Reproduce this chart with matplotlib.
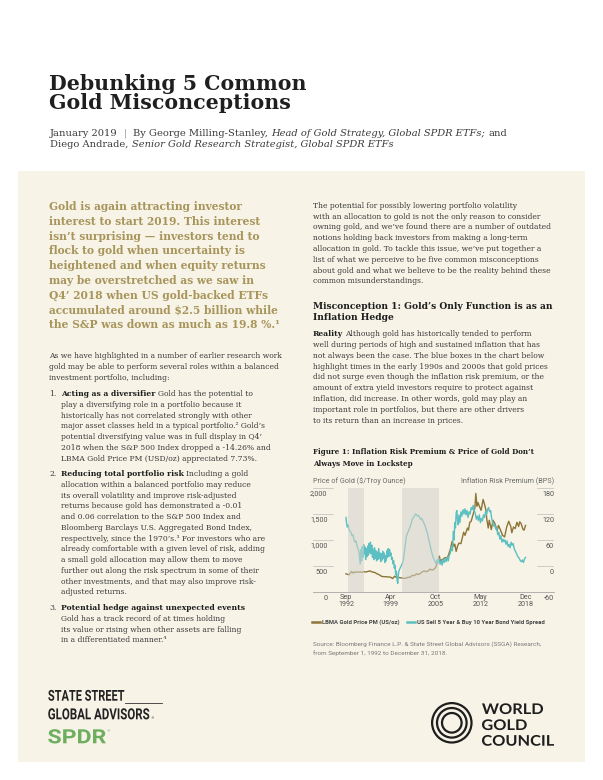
import matplotlib
matplotlib.use('Agg')
import matplotlib.pyplot as plt
from matplotlib.patches import Rectangle, Circle, PathPatch
from matplotlib.textpath import TextPath
from matplotlib.font_manager import FontProperties
from matplotlib.transforms import Affine2D, ScaledTranslation
from matplotlib.lines import Line2D

# ---------------- chart data ----------------
gold_years = [1992.67, 1992.9, 1993.1, 1993.3, 1993.5, 1993.7, 1994.0, 1994.3, 1994.6, 1995.0,
              1995.3, 1995.6, 1996.0, 1996.2, 1996.5, 1996.9, 1997.2, 1997.5, 1997.9, 1998.2,
              1998.5, 1998.8, 1999.2, 1999.5, 1999.8, 2000.0, 2000.3, 2000.6, 2000.9, 2001.2,
              2001.5, 2001.75, 2002.0, 2002.4, 2002.7, 2003.0, 2003.2, 2003.6, 2003.9, 2004.2,
              2004.4, 2004.7, 2004.95, 2005.2, 2005.5, 2005.8, 2006.0, 2006.35, 2006.5, 2006.7,
              2006.9, 2007.2, 2007.5, 2007.75, 2007.95, 2008.2, 2008.45, 2008.6, 2008.8, 2009.0,
              2009.2, 2009.5, 2009.9, 2010.1, 2010.45, 2010.6, 2010.8, 2011.0, 2011.3, 2011.55,
              2011.68, 2011.85, 2012.0, 2012.2, 2012.45, 2012.75, 2012.95, 2013.15, 2013.3, 2013.5,
              2013.65, 2013.95, 2014.2, 2014.5, 2014.8, 2015.0, 2015.3, 2015.6, 2015.9, 2016.2,
              2016.5, 2016.8, 2016.95, 2017.2, 2017.45, 2017.7, 2017.95, 2018.1, 2018.3, 2018.6,
              2018.75, 2018.96]
gold_price = [350, 340, 330, 360, 395, 365, 385, 380, 385, 380,
              390, 385, 400, 405, 385, 375, 350, 335, 300, 295,
              295, 290, 285, 258, 305, 285, 280, 275, 268, 262,
              268, 285, 280, 320, 315, 350, 335, 360, 395, 405,
              390, 405, 440, 425, 430, 470, 545, 690, 580, 620,
              630, 665, 650, 740, 820, 970, 880, 920, 780, 880,
              940, 930, 1150, 1090, 1230, 1190, 1340, 1360, 1500, 1620,
              1895, 1650, 1720, 1650, 1570, 1780, 1690, 1580, 1390, 1230,
              1380, 1200, 1380, 1310, 1180, 1280, 1190, 1090, 1060, 1250,
              1360, 1260, 1140, 1250, 1220, 1340, 1260, 1350, 1320, 1200,
              1190, 1280]

spread_years = [1992.67, 1992.75, 1992.85, 1993.0, 1993.1, 1993.25, 1993.4, 1993.55, 1993.7, 1993.85,
                1994.0, 1994.15, 1994.3, 1994.45, 1994.6, 1994.75, 1994.85, 1994.95, 1995.05, 1995.15,
                1995.25, 1995.35, 1995.45, 1995.55, 1995.65, 1995.75, 1995.85, 1995.95, 1996.05, 1996.15,
                1996.25, 1996.35, 1996.45, 1996.55, 1996.65, 1996.75, 1996.85, 1996.95, 1997.05, 1997.15,
                1997.25, 1997.35, 1997.45, 1997.55, 1997.65, 1997.75, 1997.85, 1997.95, 1998.05, 1998.15,
                1998.25, 1998.35, 1998.45, 1998.55, 1998.65, 1998.75, 1998.85, 1998.95, 1999.05, 1999.15,
                1999.25, 1999.35, 1999.45, 1999.55, 1999.65, 1999.75, 1999.85, 1999.95, 2000.05, 2000.15,
                2000.25, 2000.35, 2000.45, 2000.6, 2000.75, 2000.9, 2001.05, 2001.2, 2001.35, 2001.5,
                2001.65, 2001.8, 2001.95, 2002.1, 2002.25, 2002.4, 2002.55, 2002.7, 2002.85, 2003.0,
                2003.15, 2003.3, 2003.45, 2003.6, 2003.75, 2003.9, 2004.05, 2004.2, 2004.35, 2004.5,
                2004.65, 2004.8, 2004.95, 2005.1, 2005.25, 2005.4, 2005.55, 2005.7, 2005.85, 2006.0,
                2006.15, 2006.3, 2006.45, 2006.6, 2006.75, 2006.9, 2007.05, 2007.2, 2007.35, 2007.5,
                2007.65, 2007.8, 2007.95, 2008.1, 2008.25, 2008.4, 2008.5, 2008.6, 2008.7, 2008.8,
                2008.9, 2009.0, 2009.1, 2009.2, 2009.35, 2009.5, 2009.65, 2009.8, 2009.95, 2010.1,
                2010.25, 2010.4, 2010.55, 2010.7, 2010.85, 2011.0, 2011.15, 2011.3, 2011.45, 2011.6,
                2011.75, 2011.9, 2012.05, 2012.2, 2012.35, 2012.5, 2012.65, 2012.8, 2012.95, 2013.1,
                2013.25, 2013.4, 2013.55, 2013.7, 2013.85, 2014.0, 2014.15, 2014.3, 2014.45, 2014.6,
                2014.75, 2014.9, 2015.05, 2015.2, 2015.35, 2015.5, 2015.65, 2015.8, 2015.95, 2016.1,
                2016.25, 2016.4, 2016.55, 2016.7, 2016.85, 2017.0, 2017.15, 2017.3, 2017.45, 2017.6,
                2017.75, 2017.9, 2018.05, 2018.2, 2018.35, 2018.5, 2018.65, 2018.8, 2018.96]
spread_bps = [112, 100, 90, 95, 85, 80, 78, 70, 72, 60,
              55, 58, 45, 40, 30, 5, 38, 12, 45, 20,
              50, 28, 44, 15, 40, 22, 46, 25, 52, 30,
              55, 28, 48, 20, 38, 15, 42, 18, 35, 12,
              32, 15, 40, 18, 30, 10, 28, 14, 34, 18,
              30, 8, 24, 12, 35, 20, 40, 22, 38, 25,
              30, 15, 20, 5, 12, -5, 2, -20, -12, -32,
              -40, -18, -10, -5, 0, 5, 12, 30, 50, 68,
              75, 80, 86, 92, 100, 108, 112, 116, 120, 118,
              115, 117, 112, 108, 110, 105, 100, 95, 88, 80,
              72, 60, 50, 40, 30, 22, 16, 10, 6, 14,
              8, 18, 4, 12, 2, 15, 8, 18, 10, 20,
              12, 25, 30, 45, 35, 80, 60, 100, 88, 122,
              128, 105, 95, 118, 100, 125, 115, 130, 120, 132,
              118, 128, 112, 125, 120, 135, 130, 140, 128, 122,
              108, 115, 105, 118, 100, 110, 104, 118, 112, 125,
              118, 130, 135, 125, 128, 110, 100, 92, 96, 85,
              88, 72, 78, 62, 70, 55, 62, 56, 60, 50,
              58, 45, 50, 42, 55, 48, 52, 40, 35, 30,
              25, 20, 18, 12, 10, 14, 8, 16, 20]

shade_periods = [(1992.96, 1995.30), (2000.87, 2006.29)]
x_tick_pos = [1992.67, 1999.25, 2005.75, 2012.33, 2018.92]
x_tick_labels = ["Sep\n1992", "Apr\n1999", "Oct\n2005", "May\n2012", "Dec\n2018"]
left_ticks = [0, 500, 1000, 1500, 2000]
left_tick_labels = ["0", "500", "1,000", "1,500", "2,000"]
right_ticks = [-60, 0, 60, 120, 180]
right_tick_labels = ["-60", "0", "60", "120", "180"]
legend_labels = ["LBMA Gold Price PM (US/oz)", "US Sell 5 Year & Buy 10 Year Bond Yield Spread"]

# ---------------- page text ----------------
title_lines = ["Debunking 5 Common", "Gold Misconceptions"]
pull_lines = ["Gold is again attracting investor",
              "interest to start 2019. This interest",
              "isn\u2019t surprising \u2014 investors tend to",
              "flock to gold when uncertainty is",
              "heightened and when equity returns",
              "may be overstretched as we saw in",
              "Q4\u2019 2018 when US gold-backed ETFs",
              "accumulated around $2.5 billion while",
              "the S&P was down as much as 19.8 %.\u00b9"]
intro_lines = ["As we have highlighted in a number of earlier research work",
               "gold may be able to perform several roles within a balanced",
               "investment portfolio, including:"]
items = [
    ("1.", "Acting as a diversifier", [" Gold has the potential to",
      "play a diversifying role in a portfolio because it",
      "historically has not correlated strongly with other",
      "major asset classes held in a typical portfolio.\u00b2 Gold\u2019s",
      "potential diversifying value was in full display in Q4\u2019",
      "2018 when the S&P 500 Index dropped a -14.26% and",
      "LBMA Gold Price PM (USD/oz) appreciated 7.73%."], 396.2),
    ("2.", "Reducing total portfolio risk", [" Including a gold",
      "allocation within a balanced portfolio may reduce",
      "its overall volatility and improve risk-adjusted",
      "returns because gold has demonstrated a -0.01",
      "and 0.06 correlation to the S&P 500 Index and",
      "Bloomberg Barclays U.S. Aggregated Bond Index,",
      "respectively, since the 1970\u2019s.\u00b3 For investors who are",
      "already comfortable with a given level of risk, adding",
      "a small gold allocation may allow them to move",
      "further out along the risk spectrum in some of their",
      "other investments, and that may also improve risk-",
      "adjusted returns."], 476.2),
    ("3.", "Potential hedge against unexpected events", ["",
      "Gold has a track record of at times holding",
      "its value or rising when other assets are falling",
      "in a differentiated manner.\u2074"], 610.2),
]
right_intro = ["The potential for possibly lowering portfolio volatility",
               "with an allocation to gold is not the only reason to consider",
               "owning gold, and we\u2019ve found there are a number of outdated",
               "notions holding back investors from making a long-term",
               "allocation in gold. To tackle this issue, we\u2019ve put together a",
               "list of what we perceive to be five common misconceptions",
               "about gold and what we believe to be the reality behind these",
               "common misunderstandings."]
heading_lines = ["Misconception 1: Gold\u2019s Only Function is as an", "Inflation Hedge"]
reality_lines = [" Although gold has historically tended to perform",
                 "well during periods of high and sustained inflation that has",
                 "not always been the case. The blue boxes in the chart below",
                 "highlight times in the early 1990s and 2000s that gold prices",
                 "did not surge even though the inflation risk premium, or the",
                 "amount of extra yield investors require to protect against",
                 "inflation, did increase. In other words, gold may play an",
                 "important role in portfolios, but there are other drivers",
                 "to its return than an increase in prices."]
fig_title = ["Figure 1: Inflation Risk Premium & Price of Gold Don\u2019t", "Always Move in Lockstep"]
source_lines = ["Source: Bloomberg Finance L.P. & State Street Global Advisors (SSGA) Research,",
                "from September 1, 1992 to December 31, 2018."]

# ---------------- styles ----------------
W, H = 603, 780
CREAM = '#F7F3E7'
GOLDTXT = '#A8955B'
BODY = '#3A3A3A'
DARK = '#1F1F1F'
GOLD_C = '#8C7536'
TEAL = '#5CBFC1'
SERIF = 'DejaVu Serif'
SANS = 'Roboto'

fig = plt.figure(figsize=(W / 100, H / 100), dpi=100)
fig.patch.set_facecolor('white')
bg = fig.add_axes([0, 0, 1, 1])
bg.set_xlim(0, W)
bg.set_ylim(H, 0)
bg.axis('off')
bg.set_zorder(0)
renderer = fig.canvas.get_renderer()


def tw(s, size, family, weight='normal', style='normal'):
    t = bg.text(0, 0, s, fontsize=size, family=family, weight=weight, style=style)
    w = t.get_window_extent(renderer).width
    t.remove()
    return w


def fit(s, target, family, weight='normal', style='normal'):
    return 10.0 * target / tw(s, 10, family, weight, style)


def runs(x, y, parts, size, family):
    sp = tw('n n', size, family) - tw('nn', size, family)
    for txt, weight, style, col in parts:
        lead = len(txt) - len(txt.lstrip(' '))
        trail = len(txt) - len(txt.rstrip(' '))
        core = txt.strip(' ')
        x += lead * sp
        if core:
            bg.text(x, y, core, fontsize=size, family=family, weight=weight, style=style,
                    color=col, va='baseline', ha='left')
            x += tw(core, size, family, weight, style)
        x += trail * sp
    return x


def path_text(x, yb, s, fp, cap_h, width=None, sx=None, color='k'):
    tp = TextPath((0, 0), s, size=100, prop=fp)
    ext = tp.get_extents()
    hp = TextPath((0, 0), 'H', size=100, prop=fp).get_extents().height
    sy = cap_h / hp
    if width is not None:
        sx = width / ext.width
    tr = Affine2D().translate(-ext.x0, 0).scale(sx, -sy).translate(x, yb) + bg.transData
    bg.add_patch(PathPatch(tp, transform=tr, facecolor=color, edgecolor='none', lw=0))
    return sx


# cream panel
bg.add_patch(Rectangle((18, 171), 585 - 18, 762 - 171, facecolor=CREAM, edgecolor='none'))

# title
ts = fit(title_lines[0], 257, SERIF, 'bold')
for i, line in enumerate(title_lines):
    bg.text(49, 90 + 19 * i, line, fontsize=ts, family=SERIF, weight='bold', color=DARK,
            va='baseline', ha='left')

# byline
bs = fit("January 2019  |  By George Milling-Stanley, Head of Gold Strategy, Global SPDR ETFs; and",
         456, SERIF)
runs(50, 135.5, [("January 2019 ", 'normal', 'normal', BODY), (" | ", 'normal', 'normal', '#9A9A9A'),
                 (" By George Milling-Stanley, ", 'normal', 'normal', BODY),
                 ("Head of Gold Strategy, Global SPDR ETFs;", 'normal', 'italic', BODY),
                 (" and", 'normal', 'normal', BODY)], bs, SERIF)
runs(50, 147, [("Diego Andrade, ", 'normal', 'normal', BODY),
               ("Senior Gold Research Strategist, Global SPDR ETFs", 'normal', 'italic', BODY)], bs, SERIF)

# pull quote
ps = fit(pull_lines[7], 231, SERIF, 'bold')
for i, line in enumerate(pull_lines):
    bg.text(49, 210.5 + 14.65 * i, line, fontsize=ps, family=SERIF, weight='bold', color=GOLDTXT,
            va='baseline', ha='left')

# body size
body = fit(intro_lines[0], 237, SERIF)
for i, line in enumerate(intro_lines):
    bg.text(49, 358.5 + 10.75 * i, line, fontsize=body, family=SERIF, color=BODY, va='baseline')

for num, bold, lines, y0 in items:
    bg.text(49, y0, num, fontsize=body, family=SERIF, color=BODY, va='baseline')
    runs(61, y0, [(bold, 'bold', 'normal', DARK), (lines[0], 'normal', 'normal', BODY)], body, SERIF)
    for k, line in enumerate(lines[1:], start=1):
        bg.text(61, y0 + 10.75 * k, line, fontsize=body, family=SERIF, color=BODY, va='baseline')

# right column
for i, line in enumerate(right_intro):
    bg.text(313, 207.8 + 10.8 * i, line, fontsize=body, family=SERIF, color=BODY, va='baseline')

hs = fit(heading_lines[0], 240, SERIF, 'bold')
for i, line in enumerate(heading_lines):
    bg.text(313, 309 + 11 * i, line, fontsize=hs, family=SERIF, weight='bold', color=DARK, va='baseline')

runs(313, 336.2, [("Reality", 'bold', 'normal', DARK), (reality_lines[0], 'normal', 'normal', BODY)], body, SERIF)
for k, line in enumerate(reality_lines[1:], start=1):
    bg.text(313, 336.2 + 10.8 * k, line, fontsize=body, family=SERIF, color=BODY, va='baseline')

fs = fit(fig_title[0], 223, SERIF, 'bold')
for i, line in enumerate(fig_title):
    bg.text(313, 453.5 + 12 * i, line, fontsize=fs, family=SERIF, weight='bold', color=DARK, va='baseline')

# chart axis titles
CS = 5.2
bg.text(313, 483, "Price of Gold ($/Troy Ounce)", fontsize=CS, family=SANS, color='#6A6A6A', va='baseline')
bg.text(554, 483, "Inflation Risk Premium (BPS)", fontsize=CS, family=SANS, color='#6A6A6A',
        va='baseline', ha='right')

# ---------------- chart ----------------
axL, axR, axB, axT = 313 / W, 554 / W, 1 - 592 / H, 1 - 488 / H
ax = fig.add_axes([axL, axB, axR - axL, axT - axB])
ax.set_zorder(1)
ax.patch.set_visible(False)
gl, = ax.plot(gold_years, gold_price, color=GOLD_C, lw=1.0, solid_joinstyle='round')
ax.set_xlim(1987.84, 2023.13)
ax.set_ylim(0, 2000)
for s in ['top', 'left', 'right']:
    ax.spines[s].set_visible(False)
ax.spines['bottom'].set_color('#A5A5A5')
ax.spines['bottom'].set_linewidth(0.6)

ax2 = ax.twinx()
ax2.set_zorder(2)
ax2.patch.set_visible(False)
tl, = ax2.plot(spread_years, spread_bps, color=TEAL, lw=1.0, solid_joinstyle='round')
ax2.set_ylim(-60, 180)
for x0, x1 in shade_periods:
    ax2.axvspan(x0, x1, facecolor='#D4D2CD', alpha=0.55, lw=0, zorder=5)
for s in ['top', 'left', 'right', 'bottom']:
    ax2.spines[s].set_visible(False)

ax.set_xticks(x_tick_pos)
ax.set_xticklabels(x_tick_labels)
ax.tick_params(axis='x', length=0, pad=1.2, labelsize=CS, labelcolor='#555555')
for lab in ax.get_xticklabels():
    lab.set_family(SANS)
    lab.set_linespacing(1.15)

ax.set_yticks(left_ticks)
ax.set_yticklabels(left_tick_labels)
ax.tick_params(axis='y', length=0, pad=0, labelsize=CS, labelcolor='#555555')
for lab in ax.get_yticklabels():
    lab.set_family(SANS)
    lab.set_transform(lab.get_transform() + ScaledTranslation(14.5 / 100, -5 / 100, fig.dpi_scale_trans))

ax2.set_yticks(right_ticks)
ax2.set_yticklabels(right_tick_labels)
ax2.tick_params(axis='y', length=0, pad=0, labelsize=CS, labelcolor='#555555')
for lab in ax2.get_yticklabels():
    lab.set_family(SANS)
    lab.set_ha('right')
    lab.set_transform(lab.get_transform() + ScaledTranslation(0, -5 / 100, fig.dpi_scale_trans))

for v in left_ticks[1:]:
    ax.axhline(v, xmin=0, xmax=0.085, color='#BDBDBD', lw=0.5)
    ax.axhline(v, xmin=0.93, xmax=1.0, color='#BDBDBD', lw=0.5)

# legend
ls = fit(legend_labels[1], 126, SANS, 'bold')
h1 = Line2D([], [], color=GOLD_C, lw=1.8)
h2 = Line2D([], [], color=TEAL, lw=1.8)
fig.legend([h1, h2], legend_labels, loc='center left', bbox_to_anchor=(312 / W, 1 - 622 / H),
           ncol=2, frameon=False, handlelength=1.3, handletextpad=0.35, columnspacing=1.3,
           borderpad=0, borderaxespad=0,
           prop=FontProperties(family=SANS, weight='bold', size=ls), labelcolor='#444444')

ss = fit(source_lines[0], 227, SANS)
for i, line in enumerate(source_lines):
    bg.text(313, 645.5 + 9.3 * i, line, fontsize=ss, family=SANS, color='#7A7A7A', va='baseline')

# ---------------- logos ----------------
fp_ss = FontProperties(family='Roboto', weight='bold')
path_text(48.3, 700.7, "STATE STREET", fp_ss, 10.7, width=76, color='#222222')
path_text(48.3, 719.3, "GLOBAL ADVISORS", fp_ss, 10.9, width=101, color='#222222')
bg.plot([124.8, 162], [703.2, 703.2], color='#333333', lw=0.6)
bg.text(150.5, 719.5, "\u00ae", fontsize=2.5, family='DejaVu Sans', color='#333333', va='baseline')
fp_spdr = FontProperties(family='Roboto', weight='bold')
path_text(48.3, 743.3, "SPDR", fp_spdr, 14, width=57.5, color='#6DAE5F')
bg.text(106.5, 732, "\u00ae", fontsize=2.5, family='DejaVu Sans', color='#6DAE5F', va='baseline')

for r in (19.7, 14.8, 9.8):
    bg.add_patch(Circle((451.8, 722.8), r, fill=False, edgecolor='#1E1E1E', lw=1.6))
fp_wgc = FontProperties(family='Lato', weight='bold')
sx = path_text(482, 745.7, "COUNCIL", fp_wgc, 10.6, width=72, color='#1E1E1E')
path_text(482, 714, "WORLD", fp_wgc, 10.6, sx=sx, color='#1E1E1E')
path_text(482, 730, "GOLD", fp_wgc, 10.6, sx=sx, color='#1E1E1E')

fig.savefig('out.png', dpi=100, facecolor='white')
